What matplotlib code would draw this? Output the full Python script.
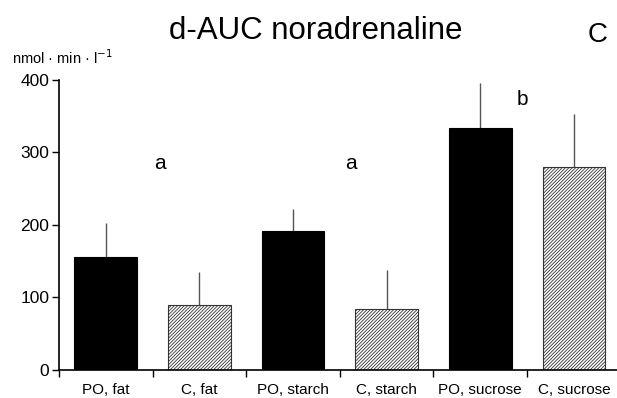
import matplotlib
matplotlib.use("Agg")
import matplotlib.pyplot as plt
import numpy as np

plt.rcParams['font.family'] = ['Liberation Sans', 'DejaVu Sans']
plt.rcParams['hatch.linewidth'] = 0.6

categories = ["PO, fat", "C, fat", "PO, starch", "C, starch", "PO, sucrose", "C, sucrose"]
means = [155, 89, 192, 84, 334, 280]
errors = [47, 46, 30, 54, 62, 73]
is_po = [True, False, True, False, True, False]
yticks = [0, 100, 200, 300, 400]
letters = ["a", "a", "b"]
letter_x = [0.58, 2.62, 4.45]
letter_y = [284, 284, 373]

fig = plt.figure(figsize=(6.17, 3.98), dpi=100)
ax = fig.add_axes([0.0956, 0.0716, 0.9044, 0.7274])

x = np.arange(len(categories))
for xi, m, e, po in zip(x, means, errors, is_po):
    if po:
        ax.bar(xi, m, width=0.67, color='black', edgecolor='black', linewidth=0.8, zorder=2)
    else:
        ax.bar(xi, m, width=0.67, color='white', edgecolor='#333333', hatch='//////////',
               linewidth=0.8, zorder=2)
    ax.vlines(xi, m, m + e, color='#555555', linewidth=1.0, zorder=1)

ax.set_xlim(-0.5, 5.46)
ax.set_ylim(0, 400)
ax.set_yticks(yticks)
ax.set_yticklabels([str(t) for t in yticks], fontsize=12.5)
ax.set_xticks(x - 0.5)
ax.set_xticklabels([])
ax.set_xticks(x, minor=True)
ax.set_xticklabels(categories, minor=True, fontsize=11)
ax.tick_params(axis='x', which='minor', length=0, pad=10)
ax.tick_params(axis='x', which='major', length=5, direction='out', width=1)
ax.tick_params(axis='y', length=5, width=1, pad=2)
for s in ['top', 'right']:
    ax.spines[s].set_visible(False)
ax.spines['left'].set_linewidth(1.2)
ax.spines['bottom'].set_linewidth(1.2)

for lx, ly, lt in zip(letter_x, letter_y, letters):
    ax.text(lx, ly, lt, fontsize=15, ha='center', va='center')

fig.text(0.511, 0.922, "d-AUC noradrenaline", fontsize=22.5, ha='center', va='center')
fig.text(0.969, 0.912, "C", fontsize=20, ha='center', va='center')
fig.text(0.02, 0.855, "nmol · min · l$^{-1}$", fontsize=10.5, ha='left', va='center')

fig.savefig("out.png", dpi=100)
